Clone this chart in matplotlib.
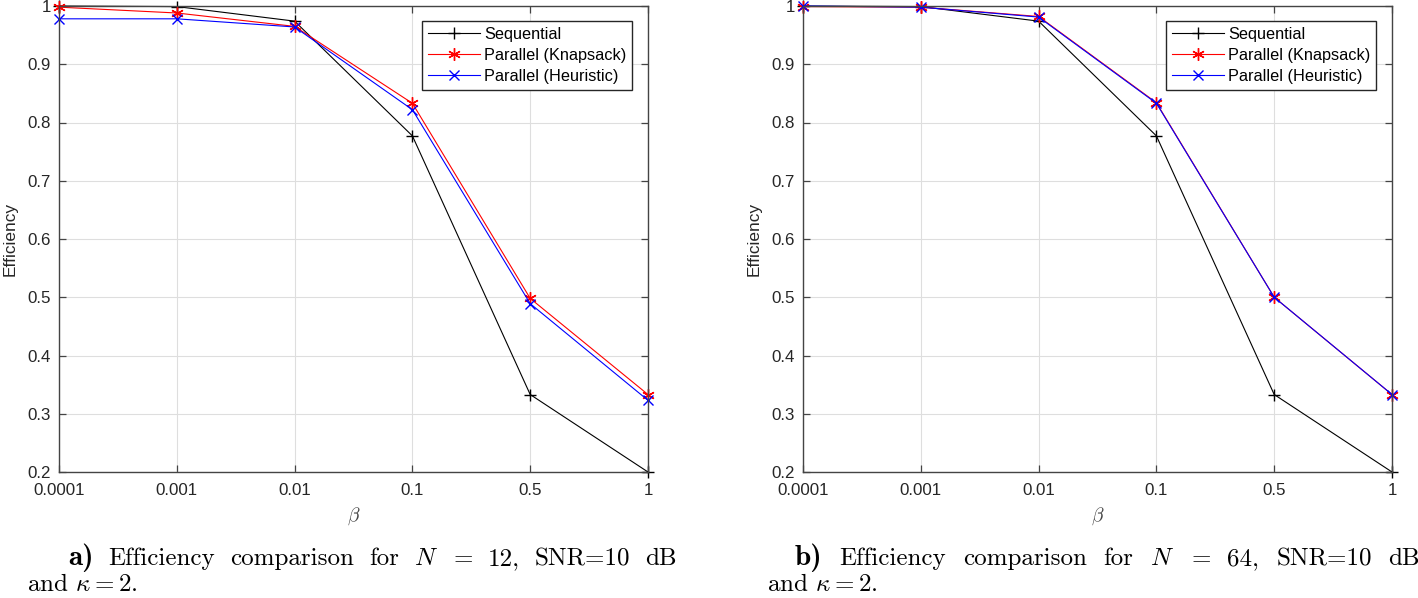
import matplotlib
matplotlib.use("Agg")
import matplotlib.pyplot as plt

W, H = 1418, 598

# beta values (shown as equally spaced categories)
beta_labels = ["0.0001", "0.001", "0.01", "0.1", "0.5", "1"]
xpos = list(range(1, len(beta_labels) + 1))

# panel a) N = 12
seq_a = [1.000, 0.999, 0.974, 0.777, 0.333, 0.200]
knap_a = [0.998, 0.988, 0.965, 0.833, 0.498, 0.333]
heur_a = [0.978, 0.978, 0.964, 0.822, 0.489, 0.323]

# panel b) N = 64
seq_b = [1.000, 0.999, 0.974, 0.777, 0.333, 0.200]
knap_b = [0.999, 0.998, 0.982, 0.834, 0.500, 0.333]
heur_b = [1.000, 0.998, 0.981, 0.833, 0.500, 0.333]

series_names = ["Sequential", "Parallel (Knapsack)", "Parallel (Heuristic)"]

plt.rcParams["font.family"] = ["Liberation Sans", "DejaVu Sans"]
plt.rcParams["mathtext.fontset"] = "cm"

AX_COL = "#262626"
fig = plt.figure(figsize=(W / 100, H / 100), dpi=100)


def px_axes(left, top, right, bottom):
    return fig.add_axes([left / W, 1 - bottom / H, (right - left) / W, (bottom - top) / H])


def draw_panel(ax, seq, knap, heur):
    ax.plot(xpos, seq, color="black", lw=0.8, marker="+", ms=9, mew=1.0,
            label=series_names[0], clip_on=False)
    ax.plot(xpos, knap, color="red", lw=0.8, marker=(6, 2, 0), ms=9, mew=1.0,
            label=series_names[1], clip_on=False)
    ax.plot(xpos, heur, color="blue", lw=0.8, marker="x", ms=7, mew=1.0,
            label=series_names[2], clip_on=False)
    ax.set_xlim(1, 6)
    ax.set_ylim(0.2, 1.0)
    ax.set_xticks(xpos)
    ax.set_xticklabels(beta_labels)
    ax.set_yticks([0.2, 0.3, 0.4, 0.5, 0.6, 0.7, 0.8, 0.9, 1.0])
    ax.set_yticklabels(["0.2", "0.3", "0.4", "0.5", "0.6", "0.7", "0.8", "0.9", "1"])
    ax.grid(True, color="#dedede", lw=0.8)
    ax.set_axisbelow(True)
    for s in ax.spines.values():
        s.set_color("#444444")
        s.set_linewidth(1.0)
    ax.tick_params(direction="in", length=5, width=0.9, color="#444444",
                   top=True, right=True, labelsize=12.2, labelcolor=AX_COL)
    ax.tick_params(axis="x", pad=8)
    ax.tick_params(axis="y", pad=6)
    ax.set_ylabel("Efficiency", fontsize=12.4, color=AX_COL)
    ax.yaxis.set_label_coords(-0.071, 0.5)
    ax.set_xlabel(r"$\beta$", fontsize=14, color="#444444")
    ax.xaxis.set_label_coords(0.5, -0.072)
    leg = ax.legend(loc="upper right", bbox_to_anchor=(0.973, 0.968), borderaxespad=0,
                    fontsize=11.7, handlelength=3.2, handletextpad=0.25, labelspacing=0.38,
                    borderpad=0.35, fancybox=False, framealpha=1, edgecolor=AX_COL)
    leg.get_frame().set_linewidth(1.0)


ax_a = px_axes(59, 6, 648, 472)
draw_panel(ax_a, seq_a, knap_a, heur_a)
ax_b = px_axes(803, 6, 1392, 472)
draw_panel(ax_b, seq_b, knap_b, heur_b)

fig.canvas.draw()
renderer = fig.canvas.get_renderer()

CAP_SIZE = 18


def caption(tag, tag_x, end_x, tokens, line2_x, line2):
    # first line justified between tag_x and end_x, like the LaTeX caption
    base1 = 1 - 565 / H
    t = fig.text(tag_x / W, base1, tag, family="cmb10", fontsize=21, va="baseline")
    tag_end = t.get_window_extent(renderer).x1
    items = []
    widths = []
    for tok in tokens:
        tt = fig.text(0, base1, tok, family="cmr10", fontsize=CAP_SIZE, va="baseline")
        items.append(tt)
        widths.append(tt.get_window_extent(renderer).width)
    gap = (end_x - tag_end - sum(widths)) / len(tokens)
    x = tag_end + gap
    for tt, w in zip(items, widths):
        tt.set_x(x / W)
        x += w + gap
    fig.text(line2_x / W, 1 - 591 / H, line2, family="cmr10", fontsize=CAP_SIZE, va="baseline")


cap_tokens = ["Efficiency", "comparison", "for", "$N$", "=", None, "SNR=10", "dB"]
caption("a)", 68, 677, [c if c else "12," for c in cap_tokens], 27, r"and $\kappa = 2$.")
caption("b)", 795, 1420, [c if c else "64," for c in cap_tokens], 767, r"and $\kappa = 2$.")

fig.savefig("out.png", dpi=100)
